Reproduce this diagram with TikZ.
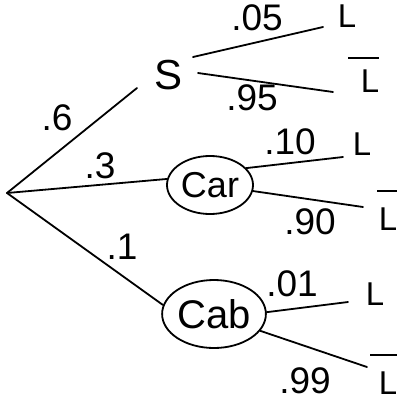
\documentclass[tikz,border=0pt]{standalone}
\usepackage{fontspec}
\setmainfont{Liberation Sans}
\usetikzlibrary{shapes.geometric}
\newsavebox{\Lbox}
\newcommand{\Lbar}[2]{\sbox{\Lbox}{L}\vbox{\hbox to \wd\Lbox{\hss\vrule width #2 height 2pt}\kern#1\hbox{L}}}
\begin{document}
\begin{tikzpicture}[x=1pt,y=-1pt,
  edge/.style={line width=1.8pt, line cap=round},
  lab/.style={inner sep=0pt, font=\fontsize{37}{37}\selectfont},
  outc/.style={inner sep=0pt, font=\fontsize{33}{33}\selectfont},
  chance/.style={ellipse, draw, line width=1.8pt, inner sep=0pt}]
\useasboundingbox (0,0) rectangle (404,402);
% nodes
\coordinate (root) at (7,193);
\node[inner sep=0pt, font=\fontsize{42}{42}\selectfont] (s) at (169,75) {S};
\node[chance, minimum width=86pt, minimum height=58pt, font=\fontsize{36}{36}\selectfont] (car) at (210,185) {Car};
\node[chance, minimum width=92pt, minimum height=68pt, font=\fontsize{40}{40}\selectfont] (cab) at (214,314) {Cab};
\coordinate (sIn) at (137,88);
\coordinate (sOutA) at (193,57);
\coordinate (sOutB) at (198,73);
\coordinate (eA) at (323,27);
\coordinate (eB) at (333,92);
\coordinate (eC) at (343,157);
\coordinate (eD) at (363,207);
\coordinate (eE) at (348,302);
\coordinate (eF) at (367,367);
% outcomes
\node[outc] (l1) at (347,16) {L};
\node[outc, anchor=south] (l1b) at (370,93) {\Lbar{1pt}{31pt}};
\node[outc] (l2) at (362,144) {L};
\node[outc, anchor=south] (l2b) at (388,231) {\Lbar{6pt}{20pt}};
\node[outc] (l3) at (375,294) {L};
\node[outc, anchor=south] (l3b) at (388,395) {\Lbar{6pt}{27pt}};
% edges
\draw[edge] (root) -- (sIn);
\draw[edge] (root) -- (car.172);
\draw[edge] (root) -- (cab.170);
\draw[edge] (sOutA) -- (eA);
\draw[edge] (sOutB) -- (eB);
\draw[edge] (car.25) -- (eC);
\draw[edge] (car.-8) -- (eD);
\draw[edge] (cab.2) -- (eE);
\draw[edge] (cab.-20) -- (eF);
% probabilities
\node[lab] (p6) at (57,118) {.6};
\node[lab] (p3) at (100,166) {.3};
\node[lab] (p1) at (122,247) {.1};
\node[lab] (p05) at (257,18) {.05};
\node[lab] (p95) at (252,98) {.95};
\node[lab] (p10) at (290,142) {.10};
\node[lab] (p90) at (310,222) {.90};
\node[lab] (p01) at (292,284) {.01};
\node[lab] (p99) at (305,381) {.99};
\end{tikzpicture}
\end{document}
